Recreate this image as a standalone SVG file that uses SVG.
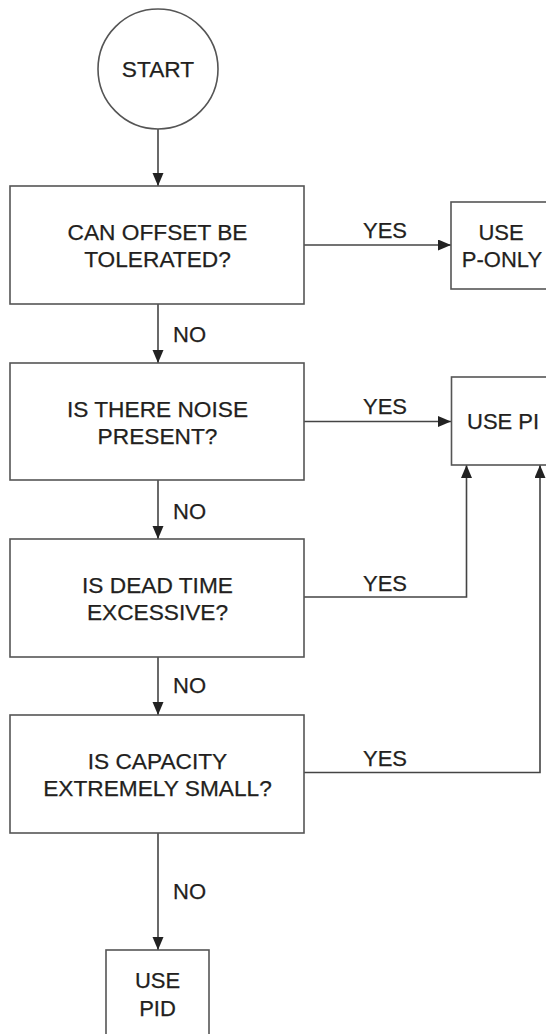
<svg xmlns="http://www.w3.org/2000/svg" width="546" height="1034" viewBox="0 0 546 1034">
<defs>
<style>
.box{fill:#fff;stroke:#555;stroke-width:1.6}
.ln{fill:none;stroke:#444;stroke-width:1.6}
text{font-family:"Liberation Sans",Arial,sans-serif;font-size:22px;fill:#231f20;stroke:#231f20;stroke-width:0.25}
.c{text-anchor:middle}
.q{font-size:22.7px}
</style>
<marker id="ah" markerUnits="userSpaceOnUse" markerWidth="14" markerHeight="12" refX="13" refY="5.5" orient="auto">
<path d="M0,0 L13,5.5 L0,11 z" fill="#222"/>
</marker>
</defs>
<rect width="546" height="1034" fill="#fff"/>
<g id="connectors">
<line class="ln" x1="158" y1="129" x2="158" y2="186" marker-end="url(#ah)"/>
<line class="ln" x1="304" y1="245" x2="451" y2="245" marker-end="url(#ah)"/>
<line class="ln" x1="158" y1="304" x2="158" y2="363" marker-end="url(#ah)"/>
<line class="ln" x1="304" y1="421.5" x2="451" y2="421.5" marker-end="url(#ah)"/>
<line class="ln" x1="158" y1="480" x2="158" y2="539" marker-end="url(#ah)"/>
<polyline class="ln" points="304,597 466.5,597 466.5,465" marker-end="url(#ah)"/>
<line class="ln" x1="158" y1="657" x2="158" y2="715" marker-end="url(#ah)"/>
<polyline class="ln" points="304,772.5 540,772.5 540,465" marker-end="url(#ah)"/>
<line class="ln" x1="158" y1="833" x2="158" y2="950" marker-end="url(#ah)"/>
<text x="385" y="238" class="c">YES</text>
<text x="385" y="414" class="c">YES</text>
<text x="385" y="591" class="c">YES</text>
<text x="385" y="766" class="c">YES</text>
<text x="173" y="342">NO</text>
<text x="173" y="519">NO</text>
<text x="173" y="693">NO</text>
<text x="173" y="899">NO</text>
</g>
<g id="start">
<circle cx="158" cy="69" r="60" class="box"/>
<text x="158" y="76.5" class="c q">START</text>
</g>
<g id="q1">
<rect x="10" y="186" width="294" height="118" class="box"/>
<text x="157.5" y="240" class="c q">CAN OFFSET BE</text>
<text x="157.5" y="267" class="c q">TOLERATED?</text>
</g>
<g id="ponly">
<rect x="451" y="202" width="110" height="87" class="box"/>
<text x="501" y="240" class="c">USE</text>
<text x="502" y="267" class="c">P-ONLY</text>
</g>
<g id="q2">
<rect x="10" y="363" width="294" height="117" class="box"/>
<text x="157.5" y="416.5" class="c q">IS THERE NOISE</text>
<text x="157.5" y="443.5" class="c q">PRESENT?</text>
</g>
<g id="pi">
<rect x="451.5" y="377" width="110" height="88" class="box"/>
<text x="467" y="429">USE PI</text>
</g>
<g id="q3">
<rect x="10" y="539" width="294" height="118" class="box"/>
<text x="157.5" y="593" class="c q">IS DEAD TIME</text>
<text x="157.5" y="619.5" class="c q">EXCESSIVE?</text>
</g>
<g id="q4">
<rect x="10" y="715" width="294" height="118" class="box"/>
<text x="157.5" y="768.5" class="c q">IS CAPACITY</text>
<text x="157.5" y="795.5" class="c q">EXTREMELY SMALL?</text>
</g>
<g id="pid">
<rect x="106" y="950" width="103" height="100" class="box"/>
<text x="157.5" y="988" class="c">USE</text>
<text x="157.5" y="1015.5" class="c">PID</text>
</g>
</svg>
